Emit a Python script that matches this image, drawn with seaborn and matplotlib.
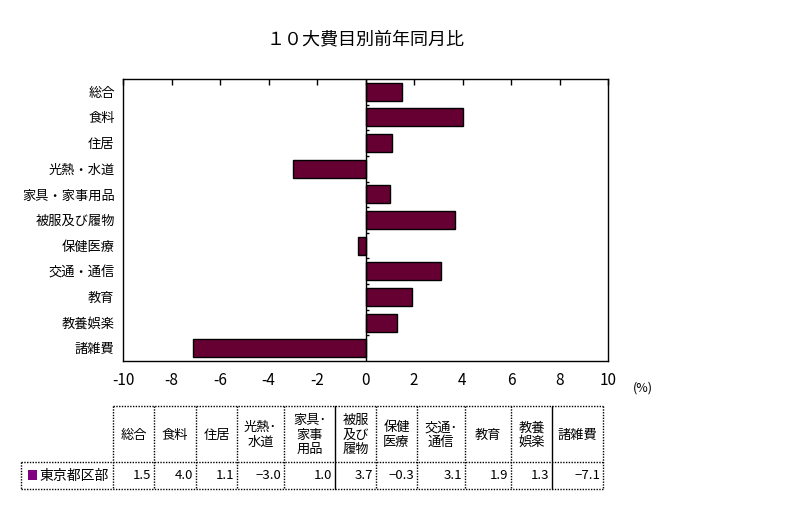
import matplotlib
matplotlib.use("Agg")
import matplotlib.pyplot as plt
import seaborn as sns
import pandas as pd
from matplotlib.patches import Rectangle

# ---- data ----
categories = ["総合", "食料", "住居", "光熱・水道", "家具・家事用品", "被服及び履物",
              "保健医療", "交通・通信", "教育", "教養娯楽", "諸雑費"]
values = [1.5, 4.0, 1.1, -3.0, 1.0, 3.7, -0.3, 3.1, 1.9, 1.3, -7.1]
table_headers = ["総合", "食料", "住居", "光熱･\n水道", "家具･\n家事\n用品", "被服\n及び\n履物",
                 "保健\n医療", "交通･\n通信", "教育", "教養\n娯楽", "諸雑費"]
series_name = "東京都区部"
x_ticks = [-10, -8, -6, -4, -2, 0, 2, 4, 6, 8, 10]
title = "１０大費目別前年同月比"
unit_label = "(%)"

sns.set_theme(style="white")
plt.rcParams['font.family'] = ['Noto Sans CJK JP', 'DejaVu Sans']
plt.rcParams['axes.unicode_minus'] = False

W, H = 798, 530
fig = plt.figure(figsize=(W / 100, H / 100), dpi=100)
fig.patch.set_facecolor("white")

# main axes in pixel geometry
L, R, T, B = 123, 608, 79, 361
ax = fig.add_axes([L / W, 1 - B / H, (R - L) / W, (B - T) / H])

df = pd.DataFrame({"cat": categories, "val": values})
sns.barplot(data=df, x="val", y="cat", orient="h", color="#660033", saturation=1,
            edgecolor="black", linewidth=1, width=0.7, ax=ax)

n = len(categories)
ax.set_xlim(x_ticks[0], x_ticks[-1])
ax.set_xticks(x_ticks)
ax.set_xticklabels([str(t) for t in x_ticks], fontsize=11)
ax.set_xlabel("")
ax.set_ylabel("")
ax.tick_params(axis="x", top=True, bottom=False, direction="in", length=4,
               width=1, color="black", labelbottom=True, pad=8)
ax.tick_params(axis="y", length=0, labelsize=9.5, pad=6)
for lab in ax.get_yticklabels():
    lab.set_color("black")
for lab in ax.get_xticklabels():
    lab.set_color("black")
for s in ax.spines.values():
    s.set_color("black")
    s.set_linewidth(1)
    s.set_visible(True)
ax.grid(False)

# zero line and category-boundary ticks on it
ax.axvline(0, color="black", linewidth=1, zorder=3)
bounds = [i + 0.5 for i in range(n - 1)]
ax.hlines(bounds, 0, 0.13, color="black", linewidth=1, zorder=3)
ax.set_ylim(n - 0.5, -0.5)
ax.set_xlim(x_ticks[0], x_ticks[-1])

ax.text(0.5, 1 + 40 / (B - T), title, transform=ax.transAxes, ha="center", va="center",
        fontsize=13, color="black")
fig.text(643 / W, 1 - 388 / H, unit_label, ha="center", va="center", fontsize=9,
         color="black")

# ---- data table (overlay in pixel coords) ----
ov = fig.add_axes([0, 0, 1, 1])
ov.set_xlim(0, W)
ov.set_ylim(H, 0)
ov.axis("off")
ov.patch.set_alpha(0)

cols = [113, 154, 196, 237, 284, 335, 376, 417, 465, 511, 552, 603]
solid_cols = {335, 552}
left0 = 21
top, mid, bot = 406, 462, 489
dot = dict(color="black", linewidth=1, linestyle=(0, (1, 1)))

ov.plot([cols[0], cols[-1]], [top, top], **dot)
ov.plot([left0, cols[-1]], [mid, mid], **dot)
ov.plot([left0, cols[-1]], [bot, bot], **dot)
ov.plot([left0, left0], [mid, bot], **dot)
for c in cols:
    if c in solid_cols:
        ov.plot([c, c], [top, bot], color="black", linewidth=1)
    else:
        ov.plot([c, c], [top, bot], **dot)

for i, (h, v) in enumerate(zip(table_headers, values)):
    cx = (cols[i] + cols[i + 1]) / 2
    ov.text(cx, (top + mid) / 2 + 1, h, ha="center", va="center", fontsize=9.5,
            linespacing=1.15, color="black")
    s = f"{v:.1f}".replace("-", "−")
    ov.text(cols[i + 1] - 3, (mid + bot) / 2, s, ha="right", va="center",
            fontsize=9.5, color="black")

ov.add_patch(Rectangle((28, 470), 9, 10, facecolor="#800080", edgecolor="none"))
ov.text(39, (mid + bot) / 2, series_name, ha="left", va="center", fontsize=10,
        color="black")

fig.savefig("out.png", dpi=100)
